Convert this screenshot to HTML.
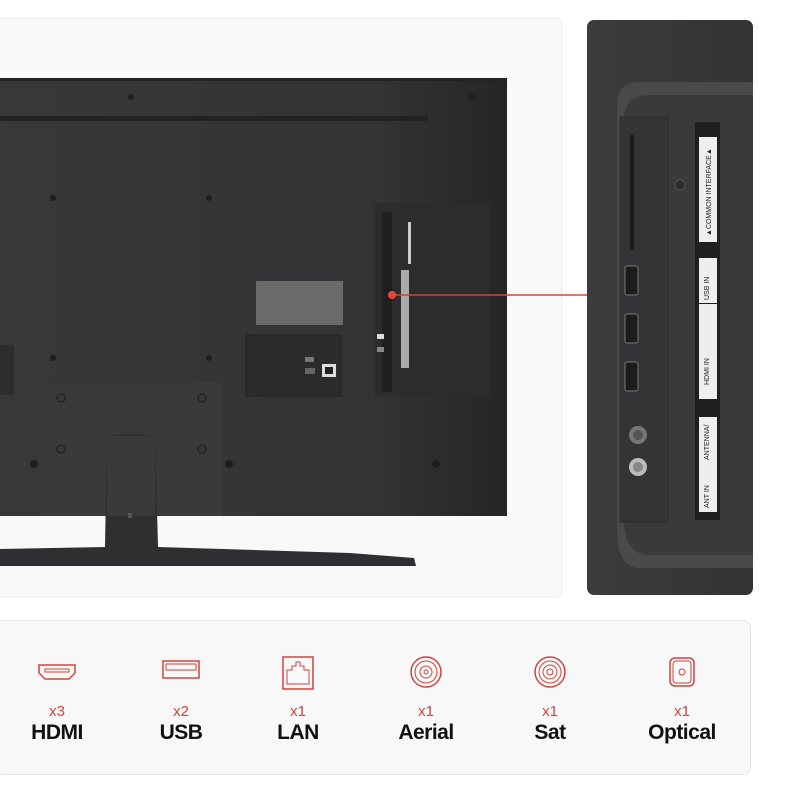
<!DOCTYPE html>
<html><head><meta charset="utf-8"><style>
html,body{margin:0;padding:0;background:#fff;width:800px;height:800px;overflow:hidden;font-family:"Liberation Sans",sans-serif}
.card{position:absolute;left:-4px;top:620px;width:755px;height:155px;background:#f8f8f8;border:1px solid #e6e6e6;border-radius:8px;box-sizing:border-box}
.it{position:absolute;top:0;width:120px;text-align:center}
.it svg{position:absolute;left:40px;top:36px}
.cnt{position:absolute;top:82px;width:120px;text-align:center;color:#d0453c;font-size:15px}
.lbl{position:absolute;top:100px;width:120px;text-align:center;color:#111;font-size:21px;font-weight:bold;letter-spacing:-0.5px}
</style></head><body>
<svg width="800" height="620" style="position:absolute;left:0;top:0">
<defs>
<linearGradient id="tv" x1="0" y1="0" x2="1" y2="0"><stop offset="0" stop-color="#38383a"/><stop offset="0.75" stop-color="#333335"/><stop offset="1" stop-color="#252527"/></linearGradient>
<linearGradient id="rp" x1="0" y1="0" x2="1" y2="0"><stop offset="0" stop-color="#3c3c3e"/><stop offset="1" stop-color="#333335"/></linearGradient>
</defs>
<rect x="-5" y="18" width="567" height="579" rx="6" fill="#f9f9f9" stroke="#ececec"/>
<rect x="0" y="78" width="507" height="438" fill="url(#tv)"/>
<rect x="0" y="78" width="507" height="3" fill="#222"/>
<rect x="0" y="116" width="428" height="5" rx="2" fill="#222"/>
<g fill="#1e1e1e">
<circle cx="131" cy="97" r="3"/><circle cx="472" cy="97" r="3"/>
<circle cx="53" cy="198" r="3"/><circle cx="209" cy="198" r="3"/>
<circle cx="53" cy="358" r="3"/><circle cx="209" cy="358" r="3"/>
<circle cx="34" cy="464" r="4"/><circle cx="229" cy="464" r="4"/><circle cx="436" cy="464" r="4"/>
</g>
<rect x="0" y="345" width="14" height="50" fill="#2d2d2f"/>
<rect x="42" y="383" width="180" height="133" fill="#3a3a3c"/>
<g fill="none" stroke="#252525" stroke-width="1.5"><circle cx="61" cy="398" r="4"/><circle cx="202" cy="398" r="4"/><circle cx="61" cy="449" r="4"/><circle cx="202" cy="449" r="4"/></g>
<rect x="256" y="281" width="87" height="44" fill="#6a6a6a"/>
<rect x="246" y="335" width="95" height="61" fill="#2b2b2d" stroke="#222"/>
<rect x="305" y="357" width="9" height="5" fill="#777"/><rect x="305" y="368" width="10" height="6" fill="#666"/>
<rect x="322" y="364" width="14" height="13" fill="#ddd"/><rect x="325" y="367" width="8" height="7" fill="#222"/>
<rect x="375" y="203" width="115" height="193" fill="#2c2c2e"/>
<rect x="382" y="212" width="10" height="180" fill="#1f1f21"/>
<rect x="408" y="222" width="3" height="42" fill="#ccc"/>
<rect x="401" y="270" width="8" height="98" fill="#aaa"/>
<rect x="377" y="334" width="7" height="5" fill="#ddd"/><rect x="377" y="347" width="7" height="5" fill="#888"/>
<line x1="392" y1="295" x2="587" y2="295" stroke="#e0403a" stroke-width="1.5"/>
<circle cx="392" cy="295" r="4" fill="#e8453c"/>
<path d="M0 549 L105 547 L107 436 Q131 432 155 436 L158 547 L350 553 L414 558 L416 566 L0 566 Z" fill="#2f2f31"/>
<rect x="107" y="436" width="48" height="80" fill="#3a3a3c"/>
<rect x="128" y="513" width="4" height="5" fill="#555"/>
<rect x="587" y="20" width="166" height="575" rx="7" fill="url(#rp)"/>
<path d="M753 82 L640 82 Q617 82 617 105 L617 528 Q617 568 640 568 L753 568 Z" fill="#4a4a4c"/>
<path d="M753 95 L650 95 Q624 95 624 120 L624 520 Q624 555 650 555 L753 555 Z" fill="#3a3a3c"/>
<rect x="620" y="117" width="48" height="405" fill="#343436" stroke="#2a2a2a"/>
<rect x="630" y="135" width="4" height="115" fill="#1a1a1a"/>
<rect x="625" y="266" width="13" height="29" rx="2" fill="#1c1c1c" stroke="#777"/>
<rect x="625" y="314" width="13" height="29" rx="2" fill="#1c1c1c" stroke="#777"/>
<rect x="625" y="362" width="13" height="29" rx="2" fill="#1c1c1c" stroke="#777"/>
<circle cx="680" cy="185" r="5" fill="#2c2c2c" stroke="#555"/>
<circle cx="638" cy="435" r="9" fill="#777"/><circle cx="638" cy="435" r="5" fill="#555"/>
<circle cx="638" cy="467" r="9" fill="#bbb"/><circle cx="638" cy="467" r="5" fill="#888"/>
<rect x="695" y="122" width="25" height="398" fill="#1f1f21"/>
<rect x="699" y="137" width="18" height="105" fill="#eee"/>
<rect x="699" y="258" width="18" height="45" fill="#eee"/>
<rect x="699" y="304" width="18" height="95" fill="#eee"/>
<rect x="699" y="417" width="18" height="95" fill="#eee"/>
<g font-size="7" fill="#222" font-family="Liberation Sans,sans-serif">
<text transform="translate(711,236) rotate(-90)">▲COMMON INTERFACE▲</text>
<text transform="translate(709,300) rotate(-90)">USB IN</text>
<text transform="translate(709,385) rotate(-90)">HDMI IN</text>
<text transform="translate(709,460) rotate(-90)">ANTENNA/</text>
<text transform="translate(709,508) rotate(-90)">ANT IN</text>
</g>
</svg>
<div class="card">
<div class="it" style="left:0"><svg width="40" height="30" viewBox="0 0 40 30"><path d="M2 8 H38 V16 L32 22 H8 L2 16 Z" fill="none" stroke="#d0453c" stroke-width="1.5"/><rect x="8" y="12" width="24" height="3" fill="none" stroke="#d0453c"/></svg><div class="cnt">x3</div><div class="lbl">HDMI</div></div>
<div class="it" style="left:124px"><svg width="40" height="30" viewBox="0 0 40 30"><rect x="2" y="4" width="36" height="17" fill="none" stroke="#d0453c" stroke-width="1.5"/><rect x="5" y="7" width="30" height="6" fill="none" stroke="#d0453c"/></svg><div class="cnt">x2</div><div class="lbl">USB</div></div>
<div class="it" style="left:241px"><svg width="40" height="40" viewBox="0 0 40 40" style="top:34px"><rect x="5" y="2" width="30" height="32" fill="none" stroke="#d0453c" stroke-width="1.5"/><path d="M9 29 V15 H14 V11 H18 V7 H22 V11 H26 V15 H31 V29 Z" fill="none" stroke="#d0453c"/></svg><div class="cnt">x1</div><div class="lbl">LAN</div></div>
<div class="it" style="left:369px"><svg width="40" height="40" viewBox="0 0 40 40" style="top:34px"><circle cx="20" cy="17" r="15" fill="none" stroke="#d0453c" stroke-width="1.5"/><circle cx="20" cy="17" r="11" fill="none" stroke="#d0453c"/><circle cx="20" cy="17" r="6" fill="none" stroke="#d0453c"/><circle cx="20" cy="17" r="2" fill="none" stroke="#d0453c"/></svg><div class="cnt">x1</div><div class="lbl">Aerial</div></div>
<div class="it" style="left:493px"><svg width="40" height="40" viewBox="0 0 40 40" style="top:34px"><circle cx="20" cy="17" r="15" fill="none" stroke="#d0453c" stroke-width="1.5"/><circle cx="20" cy="17" r="11" fill="none" stroke="#d0453c"/><circle cx="20" cy="17" r="7" fill="none" stroke="#d0453c"/><circle cx="20" cy="17" r="3" fill="none" stroke="#d0453c"/></svg><div class="cnt">x1</div><div class="lbl">Sat</div></div>
<div class="it" style="left:625px"><svg width="40" height="40" viewBox="0 0 40 40" style="top:34px"><rect x="8" y="3" width="24" height="28" rx="5" fill="none" stroke="#d0453c" stroke-width="1.5"/><rect x="11" y="6" width="18" height="22" rx="3" fill="none" stroke="#d0453c"/><circle cx="20" cy="17" r="3" fill="none" stroke="#d0453c"/></svg><div class="cnt">x1</div><div class="lbl">Optical</div></div>
</div>
</body></html>
